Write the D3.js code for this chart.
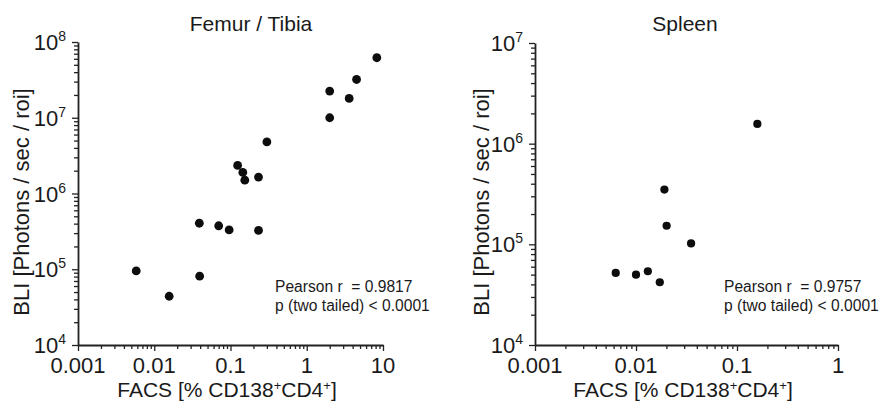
<!DOCTYPE html>
<html>
<head>
<meta charset="utf-8">
<script src="https://cdn.jsdelivr.net/npm/d3@7"></script>
<style>
  body { margin: 0; background: #fff; }
  text { font-family: "Liberation Sans", Arial, sans-serif; fill: #1a1a1a; }
</style>
</head>
<body>
<script>
// values
var femurFacs = [8.3, 4.5, 2.0, 3.6, 2.0, 0.30, 0.124, 0.145, 0.154, 0.233, 0.039, 0.070, 0.096, 0.233, 0.0058, 0.0394, 0.0157];
var femurBli  = [6.2e7, 3.2e7, 2.25e7, 1.8e7, 1.0e7, 4.8e6, 2.35e6, 1.9e6, 1.5e6, 1.65e6, 4.05e5, 3.75e5, 3.3e5, 3.25e5, 9.5e4, 8.1e4, 4.4e4];
var spleenFacs = [0.159, 0.0191, 0.0201, 0.0351, 0.0063, 0.0100, 0.0131, 0.0172];
var spleenBli  = [1.57e6, 3.5e5, 1.53e5, 1.02e5, 5.2e4, 5.0e4, 5.4e4, 4.2e4];

var femurXTicks = [0.001, 0.01, 0.1, 1, 10];
var spleenXTicks = [0.001, 0.01, 0.1, 1];
var femurYExp = [4, 5, 6, 7, 8];
var spleenYExp = [4, 5, 6, 7];

var titles = ["Femur / Tibia", "Spleen"];
var statsFemur = ["Pearson r  = 0.9817", "p (two tailed) < 0.0001"];
var statsSpleen = ["Pearson r  = 0.9757", "p (two tailed) < 0.0001"];

var W = 885, H = 403;
var svg = d3.select("body").append("svg")
    .attr("width", W)
    .attr("height", H);

// minor ticks 2..9 for every decade in a domain
function minorTicks(lo, hi) {
  var out = [];
  for (var e = Math.round(Math.log10(lo)); e < Math.round(Math.log10(hi)); e++) {
    for (var k = 2; k <= 9; k++) out.push(k * Math.pow(10, e));
  }
  return out;
}

function fmtX(v) {
  if (v >= 1) return String(v);
  return v.toFixed(Math.round(-Math.log10(v)));
}

function drawPanel(opt) {
  var x = d3.scaleLog().domain(opt.xDomain).range(opt.xRange);
  var y = d3.scaleLog().domain(opt.yDomain).range(opt.yRange);
  var g = svg.append("g");

  // minor ticks
  g.append("g")
    .attr("transform", "translate(0," + opt.yRange[0] + ")")
    .call(d3.axisBottom(x).tickValues(minorTicks(opt.xDomain[0], opt.xDomain[1])).tickSize(4).tickSizeOuter(0).tickFormat(""))
    .call(a => a.select(".domain").remove());
  g.append("g")
    .attr("transform", "translate(" + opt.xRange[0] + ",0)")
    .call(d3.axisLeft(y).tickValues(minorTicks(opt.yDomain[0], opt.yDomain[1])).tickSize(4).tickSizeOuter(0).tickFormat(""))
    .call(a => a.select(".domain").remove());

  // major ticks + axis lines
  g.append("g")
    .attr("transform", "translate(0," + opt.yRange[0] + ")")
    .call(d3.axisBottom(x).tickValues(opt.xTicks).tickSize(6).tickSizeOuter(0).tickFormat(""));
  g.append("g")
    .attr("transform", "translate(" + opt.xRange[0] + ",0)")
    .call(d3.axisLeft(y).tickValues(opt.yExp.map(e => Math.pow(10, e))).tickSize(6).tickSizeOuter(0).tickFormat(""));

  g.selectAll(".domain").attr("stroke", "#222").attr("stroke-width", 1.8);
  g.selectAll(".tick line").attr("stroke", "#222").attr("stroke-width", 1.3);

  // x tick labels
  g.selectAll(".xlab")
    .data(opt.xTicks)
    .enter().append("text")
      .attr("x", d => x(d))
      .attr("y", opt.yRange[0] + 28)
      .attr("text-anchor", "middle")
      .style("font-size", "22px")
      .text(fmtX);

  // y tick labels with superscript exponent
  var yl = g.selectAll(".ylab")
    .data(opt.yExp)
    .enter().append("text")
      .attr("x", opt.xRange[0] - 12)
      .attr("y", d => y(Math.pow(10, d)) + 8)
      .attr("text-anchor", "end")
      .style("font-size", "22px");
  yl.append("tspan").text("10");
  yl.append("tspan").attr("dy", -9).style("font-size", "14px").text(d => d);

  // points
  g.selectAll("circle")
    .data(opt.xs)
    .enter().append("circle")
      .attr("cx", d => x(d))
      .attr("cy", (d, i) => y(opt.ys[i]))
      .attr("r", opt.r)
      .attr("fill", "#0d0d0d");

  // title
  g.append("text")
    .attr("x", opt.titleX)
    .attr("y", 31)
    .attr("text-anchor", "middle")
    .style("font-size", "21px")
    .text(opt.title);

  // x axis label
  var xt = g.append("text")
    .attr("x", opt.xLabelX)
    .attr("y", 397)
    .attr("text-anchor", "middle")
    .style("font-size", "21px");
  xt.append("tspan").text("FACS [% CD138");
  xt.append("tspan").attr("dy", -7).style("font-size", "13px").text("+");
  xt.append("tspan").attr("dy", 7).text("CD4");
  xt.append("tspan").attr("dy", -7).style("font-size", "13px").text("+");
  xt.append("tspan").attr("dy", 7).text("]");

  // y axis label
  g.append("text")
    .attr("transform", "translate(" + opt.yLabelX + ",202) rotate(-90)")
    .attr("text-anchor", "middle")
    .style("font-size", "22px")
    .text("BLI [Photons / sec / roi]");

  // stats
  g.selectAll(".stat")
    .data(opt.stats)
    .enter().append("text")
      .attr("x", opt.statX)
      .attr("y", (d, i) => 292 + i * 19)
      .style("font-size", "15.6px")
      .style("white-space", "pre")
      .attr("xml:space", "preserve")
      .text(d => d);
}

drawPanel({
  xDomain: [0.001, 10], xRange: [78, 383],
  yDomain: [1e4, 1e8], yRange: [345, 42],
  xTicks: femurXTicks, yExp: femurYExp,
  xs: femurFacs, ys: femurBli, r: 4.4,
  title: titles[0], titleX: 251,
  xLabelX: 227, yLabelX: 29,
  stats: statsFemur, statX: 275
});

drawPanel({
  xDomain: [0.001, 1], xRange: [535, 838],
  yDomain: [1e4, 1e7], yRange: [345, 43],
  xTicks: spleenXTicks, yExp: spleenYExp,
  xs: spleenFacs, ys: spleenBli, r: 4.1,
  title: titles[1], titleX: 685,
  xLabelX: 683, yLabelX: 489,
  stats: statsSpleen, statX: 724
});
</script>
</body>
</html>
